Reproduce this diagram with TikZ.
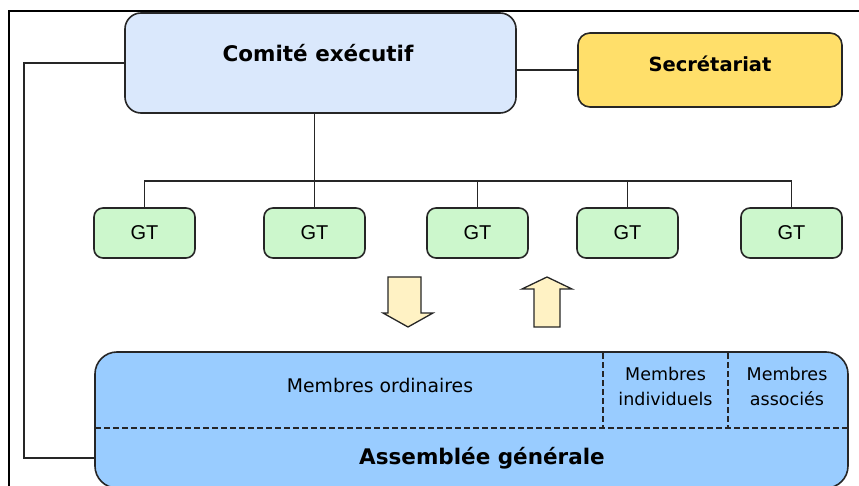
\documentclass[tikz,border=0pt]{standalone}
\usepackage{fontspec}
\setmainfont{DejaVu Sans}
\newfontfamily\gtfont{Liberation Sans}
\begin{document}
\begin{tikzpicture}[x=1pt,y=-1pt,
  box/.style={draw=black!85, line width=1.6pt, rounded corners=#1, inner sep=0pt},
  box/.default=14pt,
  title/.style={font=\bfseries\fontsize{21.5}{24}\selectfont, inner sep=0pt},
  member/.style={font=\fontsize{17.5}{25}\selectfont, inner sep=0pt, align=center},
  gtbox/.style={box=9pt, fill=gtgreen, minimum width=101pt, minimum height=50pt,
                font=\gtfont\fontsize{20}{24}\selectfont},
  link/.style={draw=black!85, line width=1.6pt},
  divider/.style={draw=black!85, line width=1.3pt, dash pattern=on 5.5pt off 3.5pt},
  bigarrow/.style={draw=black!85, line width=1.3pt, fill=arrowfill, line join=miter}
]
\definecolor{cxblue}{HTML}{DAE8FC}
\definecolor{secyellow}{HTML}{FFDF6A}
\definecolor{gtgreen}{HTML}{CCF7CC}
\definecolor{agblue}{HTML}{99CCFF}
\definecolor{arrowfill}{HTML}{FFF2C4}

\useasboundingbox (0,0) rectangle (859,486);

% outer frame (top and left)
\draw[line width=2.5pt, black] (9,486) -- (9,11) -- (859,11);

% executive committee and secretariat
\node[box=16pt, fill=cxblue, minimum width=391pt, minimum height=100pt] (cx) at (320.5,63) {};
\node[title] (cxt) at (318,53) {Comité exécutif};
\node[box=12pt, fill=secyellow, minimum width=264pt, minimum height=74pt] (sec) at (710,70) {};
\node[title, font=\bfseries\fontsize{19.5}{22}\selectfont] (sect) at (710,64) {Secrétariat};

% working groups
\node[gtbox] (g1) at (144.5,233) {GT};
\node[gtbox] (g2) at (314.5,233) {GT};
\node[gtbox] (g3) at (477.5,233) {GT};
\node[gtbox] (g4) at (627.5,233) {GT};
\node[gtbox] (g5) at (791.5,233) {GT};

% general assembly
\node[box=22pt, fill=agblue, minimum width=753pt, minimum height=136pt] (ag) at (471.5,420) {};
\coordinate (dl) at (95,428);
\coordinate (dr) at (848,428);
\coordinate (v1t) at (603,353);
\coordinate (v2t) at (728,353);
\draw[divider] (dl) -- (dr);
\draw[divider] (v1t) -- (v1t |- dl);
\draw[divider] (v2t) -- (v2t |- dl);
\node[member, font=\fontsize{18.8}{25}\selectfont] (mo) at (380,385) {Membres ordinaires};
\node[member] (mi) at (665.5,386) {Membres\\individuels};
\node[member] (ma) at (787,386) {Membres\\associés};
\node[title] (agt) at (482,458) {Assemblée générale};

% connectors
\draw[link] (sec.west) -- (sec.west -| cx.east);
\draw[link] (cx.west) -- ++(-100,0) |- (ag.west |- agt);
\draw[link] (g2.north |- cx.south) -- (g2.north);
\draw[link] (g1.north) -- ++(0,-26) coordinate (bus) -| (g5.north);
\draw[link] (g3.north) -- (g3.north |- bus);
\draw[link] (g4.north) -- (g4.north |- bus);

% flow arrows between groups and assembly
\draw[bigarrow] (388,277) -- (421,277) -- (421,313) -- (433,313) -- (408,327)
  -- (383,313) -- (388,313) -- cycle;
\draw[bigarrow] (547,277) -- (572,289) -- (560,289) -- (560,327) -- (534,327)
  -- (534,289) -- (522,289) -- cycle;
\end{tikzpicture}
\end{document}
